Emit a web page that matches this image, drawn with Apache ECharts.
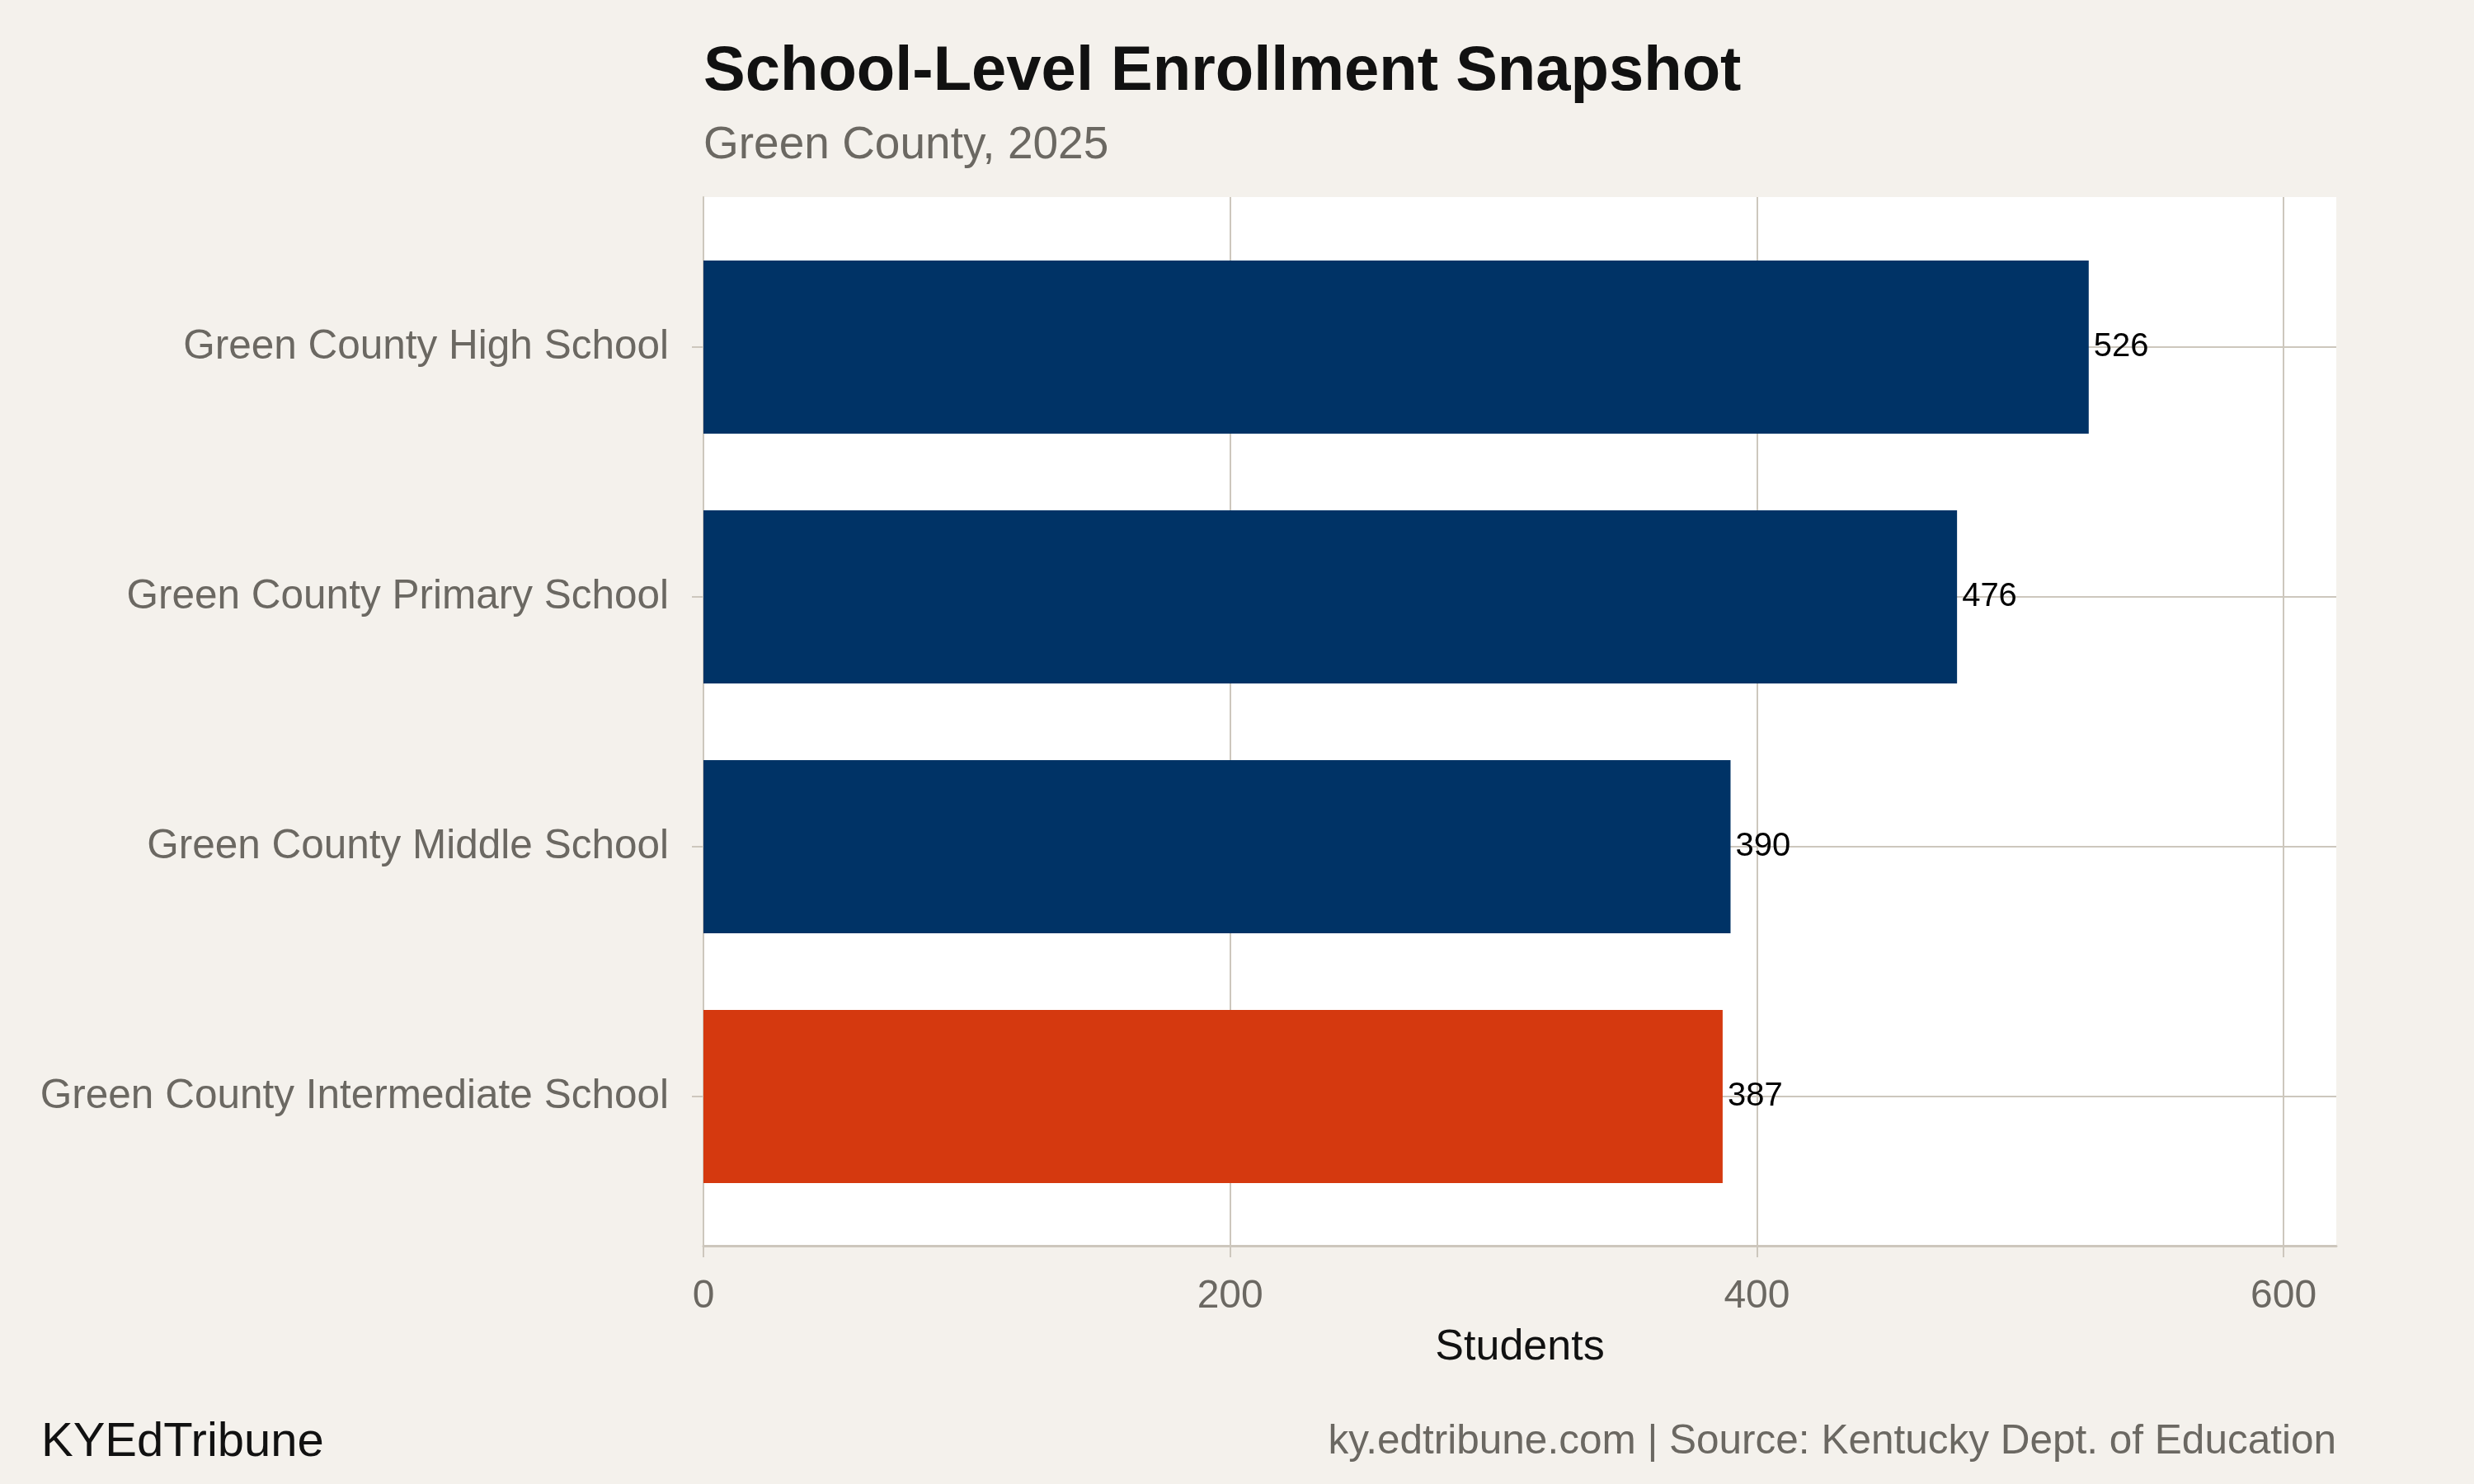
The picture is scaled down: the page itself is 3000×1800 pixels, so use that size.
<!DOCTYPE html>
<html>
<head>
<meta charset="utf-8">
<script src="https://cdn.jsdelivr.net/npm/echarts@6/dist/echarts.min.js"></script>
<style>
html,body{margin:0;padding:0;background:#f4f1ec;}
#chart{width:3000px;height:1800px;}
</style>
</head>
<body>
<div id="chart"></div>
<script>
const schools = ['Green County High School', 'Green County Primary School', 'Green County Middle School', 'Green County Intermediate School'];
const students = [526, 476, 390, 387];
const highlighted = 'Green County Intermediate School';
const xTicks = [0, 200, 400, 600];

const FONT = '"Liberation Sans", Arial, Helvetica, sans-serif';
const GRID = '#cdc7bd';
const GRAY = '#6b6862';
const NAVY = '#003366';
const ORANGE = '#d5390f';

const L = 853, T = 239, W = 1980, H = 1272;
const tickMax = xTicks[xTicks.length - 1];
const axisMax = 620;

const chart = echarts.init(document.getElementById('chart'));
chart.setOption({
  backgroundColor: '#f4f1ec',
  animation: false,
  textStyle: { fontFamily: FONT },
  title: [
    { text: 'School-Level Enrollment Snapshot', left: 853, top: 50, padding: 0,
      textStyle: { fontFamily: FONT, fontSize: 76, fontWeight: 'bold', color: '#111111' } },
    { text: 'Green County, 2025', left: 853, top: 149, padding: 0,
      textStyle: { fontFamily: FONT, fontSize: 55, fontWeight: 'normal', color: GRAY } },
    { text: 'KYEdTribune', left: 50, top: 1721, padding: 0,
      textStyle: { fontFamily: FONT, fontSize: 58, fontWeight: 'normal', color: '#111111' } },
    { text: 'ky.edtribune.com | Source: Kentucky Dept. of Education', right: 167, top: 1724, padding: 0,
      textStyle: { fontFamily: FONT, fontSize: 49.5, fontWeight: 'normal', color: GRAY } }
  ],
  grid: [
    { left: L, top: T, width: W, height: H, show: true, backgroundColor: '#ffffff', borderWidth: 0, containLabel: false },
    { left: L, top: T, width: W * tickMax / axisMax, height: H, containLabel: false },
    { left: L, top: 421, width: W, height: 909, containLabel: false }
  ],
  xAxis: [
    { gridIndex: 0, type: 'value', min: 0, max: axisMax,
      axisLine: { show: true, lineStyle: { color: GRID, width: 3 } },
      axisTick: { show: false }, axisLabel: { show: false }, splitLine: { show: false },
      name: 'Students', nameLocation: 'middle', nameGap: 98,
      nameTextStyle: { fontFamily: FONT, fontSize: 52, color: '#111111' } },
    { gridIndex: 1, type: 'value', min: xTicks[0], max: tickMax, interval: 200,
      axisLine: { show: false },
      axisTick: { show: true, length: 14, lineStyle: { color: GRID, width: 2 } },
      axisLabel: { show: true, fontFamily: FONT, fontSize: 48, color: GRAY, margin: 38 },
      splitLine: { show: true, lineStyle: { color: GRID, width: 2 } } },
    { gridIndex: 2, type: 'value', min: 0, max: axisMax, show: false }
  ],
  yAxis: [
    { gridIndex: 0, type: 'value', min: 0, max: 1,
      axisLine: { show: true, lineStyle: { color: GRID, width: 2 } },
      axisTick: { show: false }, axisLabel: { show: false }, splitLine: { show: false } },
    { gridIndex: 1, type: 'value', min: 0, max: 1, show: false },
    { gridIndex: 2, type: 'category', data: schools, inverse: true, boundaryGap: false,
      axisLine: { show: false },
      axisTick: { show: true, length: 14, lineStyle: { color: GRID, width: 2 } },
      axisLabel: { show: true, fontFamily: FONT, fontSize: 49.5, color: GRAY, margin: 42, padding: [14, 0, 0, 0] },
      splitLine: { show: true, lineStyle: { color: GRID, width: 2 } } }
  ],
  series: [
    { type: 'bar', xAxisIndex: 2, yAxisIndex: 2, data: students, barWidth: 210, clip: false,
      itemStyle: { color: (p) => p.name === highlighted ? ORANGE : NAVY },
      label: { show: true, position: 'right', distance: 6, fontFamily: FONT, fontSize: 40, color: '#000000' } }
  ]
});
</script>
</body>
</html>
